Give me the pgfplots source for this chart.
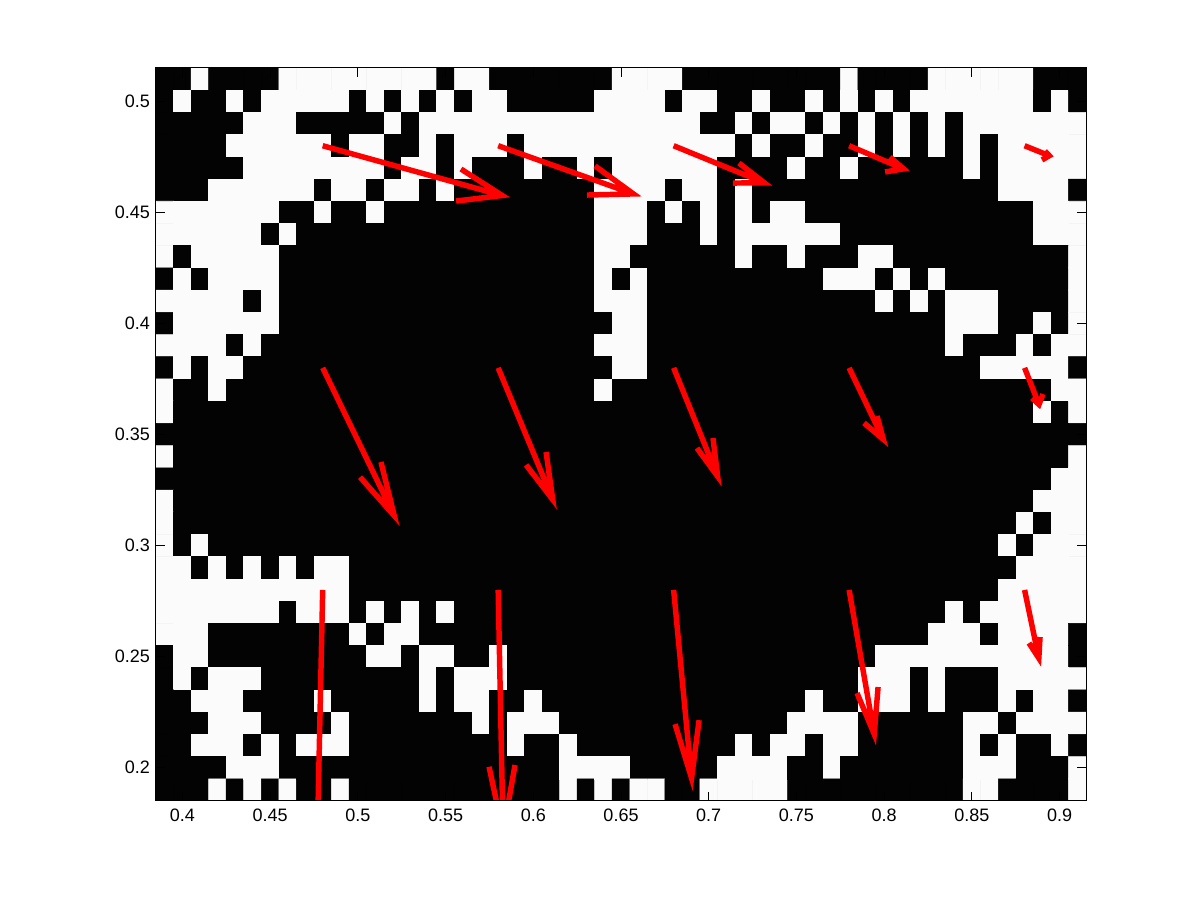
\documentclass[border=0pt]{standalone}
\usepackage{fontspec}
\setmainfont{Liberation Sans}
\usepackage{pgfplots}
\pgfplotsset{compat=1.18}
\begin{document}
\begin{tikzpicture}[x=1bp,y=1bp]
\path[use as bounding box] (-117,-74.25) rectangle (783,600.75);
\begin{axis}[
  at={(0,0)},anchor=south west,
  scale only axis,width=697.5bp,height=549.75bp,
  xmin=0.385,xmax=0.915,ymin=0.185,ymax=0.515,
  xtick={0.4,0.45,0.5,0.55,0.6,0.65,0.7,0.75,0.8,0.85,0.9},
  xticklabels={0.4,0.45,0.5,0.55,0.6,0.65,0.7,0.75,0.8,0.85,0.9},
  ytick={0.2,0.25,0.3,0.35,0.4,0.45,0.5},
  yticklabels={0.2,0.25,0.3,0.35,0.4,0.45,0.5},
  tick align=inside,tick pos=both,
  major tick length=6.75bp,
  tick style={black,line width=0.75bp},
  axis line style={black,line width=0.75bp},
  tick label style={font=\fontsize{13.5bp}{16bp}\selectfont},
  xticklabel style={yshift=-2.5bp},
  yticklabel style={xshift=-1bp},
  axis on top,
  axis background/.style={fill=black},
  colormap={bw}{gray(0cm)=(0.012); gray(1cm)=(0.985)},
  point meta min=0,point meta max=1,
  unbounded coords=jump,
]
\addplot[matrix plot*,point meta=explicit,mesh/cols=53,mesh/rows=33]
 table[header=false,row sep=crcr,meta index=0,
  x expr={0.39+0.01*round(\coordindex-53*floor((\coordindex+0.5)/53))},
  y expr={0.51-0.01*floor((\coordindex+0.5)/53)}] {
0\\0\\1\\0\\0\\0\\0\\1\\1\\1\\ 1\\1\\1\\1\\1\\1\\0\\1\\1\\0\\ 0\\0\\0\\0\\0\\0\\1\\1\\1\\1\\ 0\\0\\0\\0\\0\\0\\0\\0\\0\\1\\ 0\\0\\0\\0\\1\\1\\1\\1\\1\\1\\ 0\\0\\0\\
0\\1\\0\\0\\1\\0\\1\\1\\1\\1\\ 1\\0\\1\\0\\1\\0\\1\\0\\1\\1\\ 0\\0\\0\\0\\0\\1\\1\\1\\1\\0\\ 1\\1\\0\\0\\1\\0\\0\\1\\0\\1\\ 0\\1\\0\\1\\1\\1\\1\\1\\1\\1\\ 0\\1\\0\\
0\\0\\0\\0\\0\\1\\1\\1\\0\\0\\ 0\\0\\0\\1\\0\\1\\1\\1\\1\\1\\ 1\\1\\1\\1\\1\\1\\1\\1\\1\\1\\ 1\\0\\0\\1\\0\\1\\1\\0\\1\\0\\ 1\\0\\1\\0\\1\\0\\1\\1\\1\\1\\ 1\\1\\1\\
0\\0\\0\\0\\1\\1\\1\\1\\1\\1\\ 0\\1\\1\\0\\0\\1\\0\\1\\1\\1\\ 0\\1\\1\\1\\1\\1\\1\\1\\1\\1\\ 1\\1\\1\\0\\1\\0\\0\\1\\0\\0\\ 1\\0\\1\\0\\1\\0\\1\\0\\1\\1\\ 1\\1\\1\\
0\\0\\0\\0\\0\\1\\1\\1\\1\\1\\ 1\\1\\1\\0\\1\\1\\0\\1\\0\\0\\ 0\\1\\0\\0\\1\\0\\1\\1\\1\\1\\ 1\\1\\0\\0\\0\\0\\1\\0\\0\\1\\ 0\\0\\0\\0\\0\\0\\1\\0\\1\\1\\ 1\\1\\1\\
0\\0\\0\\1\\1\\1\\1\\1\\1\\0\\ 1\\1\\0\\1\\1\\0\\1\\0\\0\\0\\ 0\\0\\0\\0\\0\\1\\1\\1\\1\\0\\ 1\\1\\0\\1\\0\\0\\0\\0\\0\\0\\ 0\\0\\0\\0\\0\\0\\0\\0\\1\\1\\ 1\\1\\0\\
1\\1\\1\\1\\1\\1\\1\\0\\0\\1\\ 0\\0\\1\\0\\0\\0\\0\\0\\0\\0\\ 0\\0\\0\\0\\0\\1\\1\\1\\0\\1\\ 0\\1\\0\\1\\0\\1\\1\\0\\0\\0\\ 0\\0\\0\\0\\0\\0\\0\\0\\0\\0\\ 1\\1\\1\\
1\\1\\1\\1\\1\\1\\0\\1\\0\\0\\ 0\\0\\0\\0\\0\\0\\0\\0\\0\\0\\ 0\\0\\0\\0\\0\\1\\1\\1\\0\\0\\ 0\\1\\0\\1\\1\\1\\1\\1\\1\\0\\ 0\\0\\0\\0\\0\\0\\0\\0\\0\\0\\ 1\\1\\1\\
1\\0\\1\\1\\1\\1\\1\\0\\0\\0\\ 0\\0\\0\\0\\0\\0\\0\\0\\0\\0\\ 0\\0\\0\\0\\0\\1\\1\\0\\0\\0\\ 0\\0\\0\\1\\0\\0\\1\\0\\0\\0\\ 1\\1\\0\\0\\0\\0\\0\\0\\0\\0\\ 0\\0\\1\\
0\\1\\0\\1\\1\\1\\1\\0\\0\\0\\ 0\\0\\0\\0\\0\\0\\0\\0\\0\\0\\ 0\\0\\0\\0\\0\\1\\0\\1\\0\\0\\ 0\\0\\0\\0\\0\\0\\0\\0\\1\\1\\ 1\\0\\1\\0\\1\\0\\0\\0\\0\\0\\ 0\\0\\1\\
1\\1\\1\\1\\1\\0\\1\\0\\0\\0\\ 0\\0\\0\\0\\0\\0\\0\\0\\0\\0\\ 0\\0\\0\\0\\0\\1\\1\\1\\0\\0\\ 0\\0\\0\\0\\0\\0\\0\\0\\0\\0\\ 0\\1\\0\\1\\0\\1\\1\\1\\0\\0\\ 0\\0\\1\\
0\\1\\1\\1\\1\\1\\1\\0\\0\\0\\ 0\\0\\0\\0\\0\\0\\0\\0\\0\\0\\ 0\\0\\0\\0\\0\\0\\1\\1\\0\\0\\ 0\\0\\0\\0\\0\\0\\0\\0\\0\\0\\ 0\\0\\0\\0\\0\\1\\1\\1\\0\\0\\ 1\\0\\1\\
1\\1\\1\\1\\0\\1\\0\\0\\0\\0\\ 0\\0\\0\\0\\0\\0\\0\\0\\0\\0\\ 0\\0\\0\\0\\0\\1\\1\\1\\0\\0\\ 0\\0\\0\\0\\0\\0\\0\\0\\0\\0\\ 0\\0\\0\\0\\0\\1\\0\\0\\0\\1\\ 0\\1\\1\\
0\\1\\0\\1\\1\\0\\0\\0\\0\\0\\ 0\\0\\0\\0\\0\\0\\0\\0\\0\\0\\ 0\\0\\0\\0\\0\\0\\1\\1\\0\\0\\ 0\\0\\0\\0\\0\\0\\0\\0\\0\\0\\ 0\\0\\0\\0\\0\\0\\0\\1\\1\\1\\ 1\\1\\0\\
1\\0\\0\\1\\0\\0\\0\\0\\0\\0\\ 0\\0\\0\\0\\0\\0\\0\\0\\0\\0\\ 0\\0\\0\\0\\0\\1\\0\\0\\0\\0\\ 0\\0\\0\\0\\0\\0\\0\\0\\0\\0\\ 0\\0\\0\\0\\0\\0\\0\\0\\0\\0\\ 0\\1\\1\\
1\\0\\0\\0\\0\\0\\0\\0\\0\\0\\ 0\\0\\0\\0\\0\\0\\0\\0\\0\\0\\ 0\\0\\0\\0\\0\\0\\0\\0\\0\\0\\ 0\\0\\0\\0\\0\\0\\0\\0\\0\\0\\ 0\\0\\0\\0\\0\\0\\0\\0\\0\\0\\ 1\\0\\1\\
0\\0\\0\\0\\0\\0\\0\\0\\0\\0\\ 0\\0\\0\\0\\0\\0\\0\\0\\0\\0\\ 0\\0\\0\\0\\0\\0\\0\\0\\0\\0\\ 0\\0\\0\\0\\0\\0\\0\\0\\0\\0\\ 0\\0\\0\\0\\0\\0\\0\\0\\0\\0\\ 0\\0\\0\\
1\\0\\0\\0\\0\\0\\0\\0\\0\\0\\ 0\\0\\0\\0\\0\\0\\0\\0\\0\\0\\ 0\\0\\0\\0\\0\\0\\0\\0\\0\\0\\ 0\\0\\0\\0\\0\\0\\0\\0\\0\\0\\ 0\\0\\0\\0\\0\\0\\0\\0\\0\\0\\ 0\\0\\1\\
0\\0\\0\\0\\0\\0\\0\\0\\0\\0\\ 0\\0\\0\\0\\0\\0\\0\\0\\0\\0\\ 0\\0\\0\\0\\0\\0\\0\\0\\0\\0\\ 0\\0\\0\\0\\0\\0\\0\\0\\0\\0\\ 0\\0\\0\\0\\0\\0\\0\\0\\0\\0\\ 0\\1\\1\\
1\\0\\0\\0\\0\\0\\0\\0\\0\\0\\ 0\\0\\0\\0\\0\\0\\0\\0\\0\\0\\ 0\\0\\0\\0\\0\\0\\0\\0\\0\\0\\ 0\\0\\0\\0\\0\\0\\0\\0\\0\\0\\ 0\\0\\0\\0\\0\\0\\0\\0\\0\\0\\ 1\\1\\1\\
1\\0\\0\\0\\0\\0\\0\\0\\0\\0\\ 0\\0\\0\\0\\0\\0\\0\\0\\0\\0\\ 0\\0\\0\\0\\0\\0\\0\\0\\0\\0\\ 0\\0\\0\\0\\0\\0\\0\\0\\0\\0\\ 0\\0\\0\\0\\0\\0\\0\\0\\0\\1\\ 0\\1\\1\\
1\\0\\1\\0\\0\\0\\0\\0\\0\\0\\ 0\\0\\0\\0\\0\\0\\0\\0\\0\\0\\ 0\\0\\0\\0\\0\\0\\0\\0\\0\\0\\ 0\\0\\0\\0\\0\\0\\0\\0\\0\\0\\ 0\\0\\0\\0\\0\\0\\0\\0\\1\\0\\ 1\\1\\1\\
1\\1\\0\\1\\0\\1\\0\\1\\0\\1\\ 1\\0\\0\\0\\0\\0\\0\\0\\0\\0\\ 0\\0\\0\\0\\0\\0\\0\\0\\0\\0\\ 0\\0\\0\\0\\0\\0\\0\\0\\0\\0\\ 0\\0\\0\\0\\0\\0\\0\\0\\0\\1\\ 1\\1\\1\\
1\\1\\1\\1\\1\\1\\1\\1\\1\\1\\ 1\\0\\0\\0\\0\\0\\0\\0\\0\\0\\ 0\\0\\0\\0\\0\\0\\0\\0\\0\\0\\ 0\\0\\0\\0\\0\\0\\0\\0\\0\\0\\ 0\\0\\0\\0\\0\\0\\0\\0\\1\\1\\ 1\\1\\1\\
1\\1\\1\\1\\1\\1\\1\\0\\1\\1\\ 1\\0\\1\\0\\1\\0\\1\\0\\0\\0\\ 0\\0\\0\\0\\0\\0\\0\\0\\0\\0\\ 0\\0\\0\\0\\0\\0\\0\\0\\0\\0\\ 0\\0\\0\\0\\0\\1\\0\\1\\1\\1\\ 1\\1\\1\\
1\\1\\1\\0\\0\\0\\0\\0\\0\\0\\ 0\\1\\0\\1\\1\\0\\0\\0\\0\\0\\ 0\\0\\0\\0\\0\\0\\0\\0\\0\\0\\ 0\\0\\0\\0\\0\\0\\0\\0\\0\\0\\ 0\\0\\0\\0\\1\\1\\1\\0\\1\\1\\ 1\\1\\0\\
0\\1\\1\\0\\0\\0\\0\\0\\0\\0\\ 0\\0\\1\\1\\0\\1\\1\\0\\0\\1\\ 0\\0\\0\\0\\0\\0\\0\\0\\0\\0\\ 0\\0\\0\\0\\0\\0\\0\\0\\0\\0\\ 0\\1\\1\\1\\1\\1\\1\\1\\1\\1\\ 1\\1\\0\\
0\\1\\0\\1\\1\\1\\0\\0\\0\\0\\ 0\\0\\0\\0\\0\\1\\0\\1\\1\\1\\ 0\\0\\0\\0\\0\\0\\0\\0\\0\\0\\ 0\\0\\0\\0\\0\\0\\0\\0\\0\\0\\ 1\\1\\1\\0\\1\\0\\0\\0\\1\\1\\ 1\\1\\1\\
0\\0\\1\\1\\1\\0\\0\\0\\0\\1\\ 0\\0\\0\\0\\0\\1\\0\\1\\1\\0\\ 0\\1\\0\\0\\0\\0\\0\\0\\0\\0\\ 0\\0\\0\\0\\0\\0\\0\\1\\0\\0\\ 1\\1\\1\\0\\1\\0\\0\\0\\1\\0\\ 1\\1\\0\\
0\\0\\0\\1\\1\\1\\0\\0\\0\\0\\ 1\\0\\0\\0\\0\\0\\0\\0\\1\\0\\ 1\\1\\1\\0\\0\\0\\0\\0\\0\\0\\ 0\\0\\0\\0\\0\\0\\1\\1\\1\\1\\ 0\\0\\0\\0\\0\\0\\1\\1\\0\\1\\ 1\\1\\1\\
0\\0\\1\\1\\1\\0\\1\\0\\1\\1\\ 1\\0\\0\\0\\0\\0\\0\\0\\0\\0\\ 1\\0\\0\\1\\0\\0\\0\\0\\0\\0\\ 0\\0\\0\\1\\0\\1\\1\\0\\1\\1\\ 0\\0\\0\\0\\0\\0\\1\\0\\1\\0\\ 0\\1\\0\\
0\\0\\0\\0\\1\\1\\1\\0\\0\\0\\ 0\\0\\0\\0\\0\\0\\0\\0\\0\\0\\ 0\\0\\0\\1\\1\\1\\1\\0\\0\\0\\ 0\\0\\1\\1\\1\\1\\0\\0\\1\\0\\ 0\\0\\0\\0\\0\\0\\1\\1\\1\\0\\ 0\\0\\1\\
0\\0\\0\\1\\0\\1\\0\\1\\0\\0\\ 1\\0\\0\\0\\0\\0\\0\\0\\0\\0\\ 0\\0\\0\\1\\0\\1\\0\\1\\1\\0\\ 0\\1\\1\\1\\1\\1\\0\\0\\0\\0\\ 0\\0\\0\\0\\0\\0\\1\\1\\0\\0\\ 0\\0\\1\\
};
\addplot[red,line width=4.1bp,line join=miter,line cap=butt,no markers] coordinates {
(0.48,0.48)(0.5823,0.4576)(nan,nan)(0.5588,0.4695)(0.5823,0.4576)(0.5560,0.4551)(nan,nan)
(0.58,0.48)(0.6571,0.4583)(nan,nan)(0.6352,0.4709)(0.6571,0.4583)(0.6306,0.4578)(nan,nan)
(0.68,0.48)(0.7317,0.4633)(nan,nan)(0.7172,0.4722)(0.7317,0.4633)(0.7138,0.4632)(nan,nan)
(0.78,0.48)(0.8110,0.4696)(nan,nan)(0.8033,0.4749)(0.8110,0.4696)(0.8005,0.4682)(nan,nan)
(0.88,0.48)(0.8941,0.4755)(nan,nan)(0.8916,0.4776)(0.8941,0.4755)(0.8899,0.4736)(nan,nan)
(0.48,0.38)(0.5208,0.3134)(nan,nan)(0.5013,0.3308)(0.5208,0.3134)(0.5132,0.3376)(nan,nan)
(0.58,0.38)(0.6111,0.3207)(nan,nan)(0.5959,0.3363)(0.6111,0.3207)(0.6073,0.3421)(nan,nan)
(0.68,0.38)(0.7051,0.3311)(nan,nan)(0.6933,0.3439)(0.7051,0.3311)(0.7024,0.3484)(nan,nan)
(0.78,0.38)(0.7995,0.3478)(nan,nan)(0.7885,0.3552)(0.7995,0.3478)(0.7959,0.3583)(nan,nan)
(0.88,0.38)(0.8882,0.3635)(nan,nan)(0.8842,0.3664)(0.8882,0.3635)(0.8905,0.3682)(nan,nan)
(0.48,0.28)(0.4768,0.1629)(nan,nan)
(0.58,0.28)(0.5828,0.1710)(nan,nan)(0.5748,0.2004)(0.5828,0.1710)(0.5896,0.2012)(nan,nan)
(0.68,0.28)(0.6902,0.1953)(nan,nan)(0.6808,0.2196)(0.6902,0.1953)(0.6945,0.2214)(nan,nan)
(0.78,0.28)(0.7943,0.2151)(nan,nan)(0.7845,0.2336)(0.7943,0.2151)(0.7965,0.2363)(nan,nan)
(0.88,0.28)(0.8881,0.2493)(nan,nan)(0.8825,0.2561)(0.8881,0.2493)(0.8888,0.2588)
};
\end{axis}
\end{tikzpicture}
\end{document}
